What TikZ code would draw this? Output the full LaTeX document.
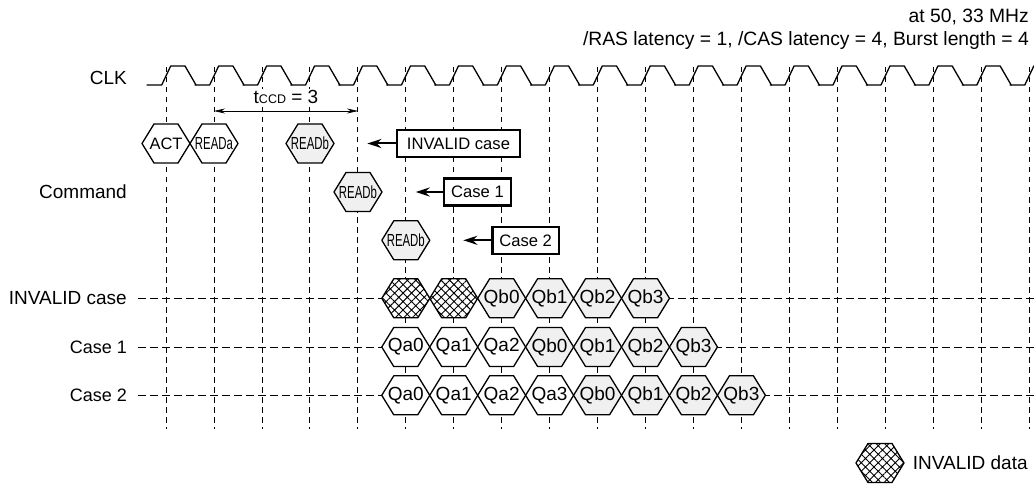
\documentclass[tikz,border=0pt]{standalone}
\usepackage{fontspec}
\setmainfont{Liberation Sans}
\usetikzlibrary{arrows.meta}
\usetikzlibrary{patterns.meta}
\definecolor{qbgray}{gray}{.94}
\newcommand{\narrow}[1]{\scalebox{.6}[.92]{#1}}
% hexagon outline with a named label node on top
\newcommand{\hexa}[4]{
  \draw[hexline,#1] (#3)+(-24,0)--+(-12,-19.5)--+(12,-19.5)--+(24,0)--+(12,19.5)--+(-12,19.5)--cycle;
  \node[inner sep=0pt,minimum width=48pt,minimum height=39pt] (#2) at (#3){#4};
}
\tikzset{
  hexline/.style={line width=1.3pt,line join=round,fill=white},
  hexb/.style={fill=qbgray},
  hexbad/.style={preaction={fill=white},pattern={Hatch[angle=45,distance=6pt,line width=.9pt]}},
  casebox/.style={draw,line width=2.2pt,fill=white,inner sep=0pt,minimum height=27pt,font=\fontsize{16.6}{20}\selectfont},
  pointer/.style={line width=2pt,-{Stealth[length=14pt,width=9pt]}},
  rowlabel/.style={anchor=east,inner sep=0pt},
  caselabel/.style={rowlabel,font=\fontsize{18}{22}\selectfont},
  headlabel/.style={rowlabel,font=\fontsize{19.3}{22}\selectfont},
  grid/.style={line width=.8pt,dash pattern=on 5.5pt off 4.5pt},
  rowline/.style={line width=.8pt,dash pattern=on 7.5pt off 4.5pt}
}
\begin{document}
\begin{tikzpicture}[x=1pt,y=-1pt,font=\fontsize{19}{22}\selectfont]
  \useasboundingbox (0,0) rectangle (1034,484);
  % clock and grid
  \foreach \k in {0,...,18}{
    \pgfmathsetmacro{\xk}{166+47.95*\k}
    \draw[grid] (\xk,67)--(\xk,429);
    \draw[line width=1.3pt,line join=round,line cap=round]
      (\xk-19,85)--(\xk-4.3,85)--(\xk+4.7,66)--(\xk+19,66)--(\xk+30,85);
  }
  \draw[rowline] (138,298.3)--(1034,298.3);
  \draw[rowline] (138,347)--(1034,347);
  \draw[rowline] (138,395.3)--(1034,395.3);
  % labels
  \node[rowlabel] (lblclk) at (127,78){CLK};
  \node[rowlabel] (lblcmd) at (127,192){Command};
  \node[rowlabel] (lblinv) at (127,298.3){INVALID case};
  \node[caselabel] (lblone) at (127,347){Case 1};
  \node[caselabel] (lbltwo) at (127,395.3){Case 2};
  \node[headlabel] (atfreq) at (1029,17){at 50, 33 MHz};
  \node[headlabel] (latency) at (1029,41){/RAS latency = 1, /CAS latency = 4, Burst length = 4};
  % tccd
  \coordinate (tccdl) at (214,111);
  \coordinate (tccdr) at (358,111);
  \draw[line width=.7pt,{Stealth[length=11pt,width=5pt]}-{Stealth[length=11pt,width=5pt]}] (tccdl)--(tccdr);
  \node[inner sep=1pt,fill=white] (tccd) at (286,97){t{\fontsize{12.5}{13}\selectfont CCD} = 3};
  % commands
  \hexa{}{act}{166,143.5}{\fontsize{16.5}{20}\selectfont ACT}
  \hexa{}{reada}{214,143.5}{\narrow{READa}}
  \hexa{hexb}{readb}{310,143.5}{\narrow{READb}}
  \hexa{hexb}{readc}{358,192}{\narrow{READb}}
  \hexa{hexb}{readd}{405.8,240.3}{\narrow{READb}}
  % boxes
  \node[casebox,minimum width=123pt] (boxinv) at (458.5,143.5){INVALID case};
  \node[casebox,minimum width=66.5pt] (boxone) at (477.5,192){Case 1};
  \node[casebox,minimum width=66.5pt] (boxtwo) at (525.7,240.3){Case 2};
  \coordinate (tipinv) at (367.3,143.5);
  \coordinate (tipone) at (415.7,192);
  \coordinate (tiptwo) at (463.3,240.3);
  \draw[pointer] (boxinv.west)--(tipinv);
  \draw[pointer] (boxone.west)--(tipone);
  \draw[pointer] (boxtwo.west)--(tiptwo);
  % data rows
  \hexa{hexbad}{badx}{405.8,298.3}{}
  \hexa{hexbad}{bady}{453.7,298.3}{}
  \foreach \n/\k in {Qb0/7,Qb1/8,Qb2/9,Qb3/10}{
    \hexa{hexb}{inv\n}{166+47.95*\k,298.3}{\n}
  }
  \foreach \n/\k in {Qa0/5,Qa1/6,Qa2/7}{
    \hexa{}{one\n}{166+47.95*\k,347}{\n}
  }
  \foreach \n/\k in {Qb0/8,Qb1/9,Qb2/10,Qb3/11}{
    \hexa{hexb}{one\n}{166+47.95*\k,347}{\n}
  }
  \foreach \n/\k in {Qa0/5,Qa1/6,Qa2/7,Qa3/8}{
    \hexa{}{two\n}{166+47.95*\k,395.3}{\n}
  }
  \foreach \n/\k in {Qb0/9,Qb1/10,Qb2/11,Qb3/12}{
    \hexa{hexb}{two\n}{166+47.95*\k,395.3}{\n}
  }
  % legend
  \hexa{hexbad}{legend}{880,463}{}
  \node[anchor=west,inner sep=0pt] (legendtxt) at (912.7,463){INVALID data};
\end{tikzpicture}
\end{document}
